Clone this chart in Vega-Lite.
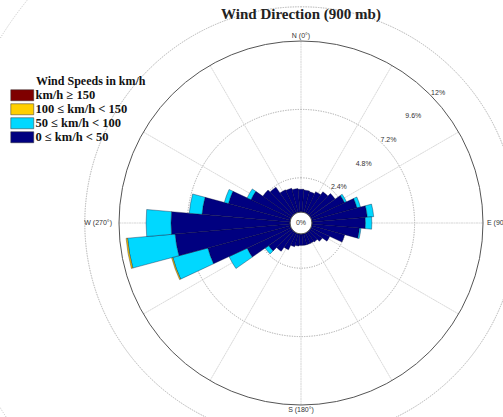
{
  "$schema": "https://vega.github.io/schema/vega-lite/v6.json",
  "width": 400,
  "height": 388,
  "autosize": {"type": "none"},
  "padding": {"left": 101, "top": 29, "right": 2, "bottom": 0},
  "background": "white",
  "config": {"view": {"stroke": null}},
  "datasets": {
    "wind": [
      {"d": 0, "s": "0 ≤ km/h < 50", "p": 1.6},
      {"d": 10, "s": "0 ≤ km/h < 50", "p": 1.55},
      {"d": 20, "s": "0 ≤ km/h < 50", "p": 1.5},
      {"d": 30, "s": "0 ≤ km/h < 50", "p": 1.65},
      {"d": 40, "s": "0 ≤ km/h < 50", "p": 1.9},
      {"d": 50, "s": "0 ≤ km/h < 50", "p": 2.15},
      {"d": 60, "s": "0 ≤ km/h < 50", "p": 2.6},
      {"d": 60, "s": "50 ≤ km/h < 100", "p": 0.15},
      {"d": 70, "s": "0 ≤ km/h < 50", "p": 3.3},
      {"d": 70, "s": "50 ≤ km/h < 100", "p": 0.25},
      {"d": 80, "s": "0 ≤ km/h < 50", "p": 3.9},
      {"d": 80, "s": "50 ≤ km/h < 100", "p": 0.45},
      {"d": 90, "s": "0 ≤ km/h < 50", "p": 3.75},
      {"d": 90, "s": "50 ≤ km/h < 100", "p": 0.45},
      {"d": 100, "s": "0 ≤ km/h < 50", "p": 3.35},
      {"d": 100, "s": "50 ≤ km/h < 100", "p": 0.1},
      {"d": 110, "s": "0 ≤ km/h < 50", "p": 2.4},
      {"d": 120, "s": "0 ≤ km/h < 50", "p": 1.45},
      {"d": 130, "s": "0 ≤ km/h < 50", "p": 1.05},
      {"d": 140, "s": "0 ≤ km/h < 50", "p": 0.85},
      {"d": 150, "s": "0 ≤ km/h < 50", "p": 0.8},
      {"d": 160, "s": "0 ≤ km/h < 50", "p": 0.8},
      {"d": 170, "s": "0 ≤ km/h < 50", "p": 0.8},
      {"d": 180, "s": "0 ≤ km/h < 50", "p": 0.8},
      {"d": 190, "s": "0 ≤ km/h < 50", "p": 0.85},
      {"d": 200, "s": "0 ≤ km/h < 50", "p": 0.95},
      {"d": 210, "s": "0 ≤ km/h < 50", "p": 1.3},
      {"d": 220, "s": "0 ≤ km/h < 50", "p": 1.65},
      {"d": 230, "s": "0 ≤ km/h < 50", "p": 2.0},
      {"d": 230, "s": "50 ≤ km/h < 100", "p": 0.3},
      {"d": 240, "s": "0 ≤ km/h < 50", "p": 3.4},
      {"d": 240, "s": "50 ≤ km/h < 100", "p": 1.4},
      {"d": 250, "s": "0 ≤ km/h < 50", "p": 6.0},
      {"d": 250, "s": "50 ≤ km/h < 100", "p": 2.55},
      {"d": 250, "s": "100 ≤ km/h < 150", "p": 0.08},
      {"d": 260, "s": "0 ≤ km/h < 50", "p": 8.1},
      {"d": 260, "s": "50 ≤ km/h < 100", "p": 3.35},
      {"d": 260, "s": "100 ≤ km/h < 150", "p": 0.1},
      {"d": 270, "s": "0 ≤ km/h < 50", "p": 8.35},
      {"d": 270, "s": "50 ≤ km/h < 100", "p": 1.75},
      {"d": 280, "s": "0 ≤ km/h < 50", "p": 6.2},
      {"d": 280, "s": "50 ≤ km/h < 100", "p": 0.9},
      {"d": 290, "s": "0 ≤ km/h < 50", "p": 4.5},
      {"d": 290, "s": "50 ≤ km/h < 100", "p": 0.3},
      {"d": 300, "s": "0 ≤ km/h < 50", "p": 3.1},
      {"d": 300, "s": "50 ≤ km/h < 100", "p": 0.3},
      {"d": 310, "s": "0 ≤ km/h < 50", "p": 2.5},
      {"d": 320, "s": "0 ≤ km/h < 50", "p": 2.3},
      {"d": 330, "s": "0 ≤ km/h < 50", "p": 1.8},
      {"d": 340, "s": "0 ≤ km/h < 50", "p": 1.75},
      {"d": 350, "s": "0 ≤ km/h < 50", "p": 1.65}
    ]
  },
  "layer": [
    {
      "data": {"values": [{"v": 2.4}, {"v": 4.8}, {"v": 7.2}, {"v": 9.6}]},
      "mark": {"type": "arc", "filled": false, "theta": 0, "theta2": 6.283185307179586, "color": "#b0b0b0", "strokeWidth": 0.8, "strokeDash": [1, 1.5]},
      "encoding": {
        "radius": {"field": "v", "type": "quantitative", "scale": {"type": "linear", "domain": [0, 12], "range": [11, 182], "zero": false}}
      }
    },
    {
      "data": {"values": [{"a": 0}, {"a": 30}, {"a": 60}, {"a": 90}, {"a": 120}, {"a": 150}, {"a": 180}, {"a": 210}, {"a": 240}, {"a": 270}, {"a": 300}, {"a": 330}]},
      "mark": {"type": "arc", "filled": false, "color": "#c4c4c4", "strokeWidth": 0.7, "strokeDash": [1, 1.5]},
      "encoding": {
        "theta": {"field": "a", "type": "quantitative", "scale": {"type": "linear", "domain": [0, 360], "range": [0, 6.283185307179586], "zero": false}},
        "theta2": {"field": "a"},
        "radius": {"datum": 12, "type": "quantitative", "scale": {"type": "linear", "domain": [0, 12], "range": [11, 182], "zero": false}},
        "radius2": {"datum": 0}
      }
    },
    {
      "data": {"name": "wind"},
      "transform": [
        {"calculate": "indexof(['0 ≤ km/h < 50', '50 ≤ km/h < 100', '100 ≤ km/h < 150', 'km/h ≥ 150'], datum.s)", "as": "k"},
        {"calculate": "datum.d - 5", "as": "t0"},
        {"calculate": "datum.d + 5", "as": "t1"},
        {"stack": "p", "groupby": ["d"], "sort": [{"field": "k", "order": "ascending"}], "as": ["r0", "r1"]}
      ],
      "mark": {"type": "arc", "stroke": "#00002a", "strokeWidth": 0.35},
      "encoding": {
        "theta": {"field": "t0", "type": "quantitative", "scale": {"type": "linear", "domain": [0, 360], "range": [0, 6.283185307179586], "zero": false}},
        "theta2": {"field": "t1"},
        "radius": {"field": "r1", "type": "quantitative", "scale": {"type": "linear", "domain": [0, 12], "range": [11, 182], "zero": false}},
        "radius2": {"field": "r0"},
        "color": {
          "field": "s", "type": "nominal",
          "scale": {"domain": ["km/h ≥ 150", "100 ≤ km/h < 150", "50 ≤ km/h < 100", "0 ≤ km/h < 50"], "range": ["#7f0000", "#ffcf00", "#00d8ff", "#000080"]},
          "legend": {
            "orient": "none", "legendX": -65, "legendY": 47, "padding": 0,
            "title": "Wind Speeds in km/h", "titleFont": "Liberation Serif", "titleFontSize": 12, "titleFontWeight": "bold", "titleColor": "#111111", "titlePadding": 1,
            "labelFont": "Liberation Serif", "labelFontSize": 12.5, "labelFontWeight": "bold", "labelColor": "#111111",
            "symbolType": "M-5.48,-0.96H-1.48V0.96H-5.48Z", "symbolSize": 132, "symbolOffset": 0, "labelOffset": -13,
            "rowPadding": 0, "symbolStrokeColor": "#333333", "symbolStrokeWidth": 0.5, "symbolOpacity": 1
          }
        }
      }
    },
    {
      "data": {"values": [{"v": 12}]},
      "mark": {"type": "arc", "filled": false, "theta": 0, "theta2": 6.283185307179586, "color": "#555555", "strokeWidth": 1},
      "encoding": {
        "radius": {"field": "v", "type": "quantitative", "scale": {"type": "linear", "domain": [0, 12], "range": [11, 182], "zero": false}}
      }
    },
    {
      "data": {"values": [{"t": "0%"}]},
      "mark": {"type": "text", "font": "Liberation Sans", "fontSize": 7, "color": "#333333", "baseline": "middle", "align": "center"},
      "encoding": {"text": {"field": "t"}}
    },
    {
      "data": {"values": [{"v": 2.4, "t": "2.4%"}, {"v": 4.8, "t": "4.8%"}, {"v": 7.2, "t": "7.2%"}, {"v": 9.6, "t": "9.6%"}, {"v": 12, "t": "12%"}]},
      "mark": {"type": "text", "font": "Liberation Sans", "fontSize": 7, "color": "#333333", "baseline": "middle", "align": "center", "radiusOffset": 7},
      "encoding": {
        "theta": {"datum": 46.5, "type": "quantitative", "scale": {"type": "linear", "domain": [0, 360], "range": [0, 6.283185307179586], "zero": false}},
        "radius": {"field": "v", "type": "quantitative", "scale": {"type": "linear", "domain": [0, 12], "range": [11, 182], "zero": false}},
        "text": {"field": "t"}
      }
    },
    {
      "data": {"values": [{"a": 0, "t": "N (0°)"}, {"a": 180, "t": "S (180°)"}]},
      "mark": {"type": "text", "font": "Liberation Sans", "fontSize": 7, "color": "#333333", "baseline": "middle", "align": "center", "radiusOffset": 5},
      "encoding": {
        "theta": {"field": "a", "type": "quantitative", "scale": {"type": "linear", "domain": [0, 360], "range": [0, 6.283185307179586], "zero": false}},
        "radius": {"datum": 12, "type": "quantitative", "scale": {"type": "linear", "domain": [0, 12], "range": [11, 182], "zero": false}},
        "text": {"field": "t"}
      }
    },
    {
      "data": {"values": [{"a": 90, "t": "E (90°)"}]},
      "mark": {"type": "text", "font": "Liberation Sans", "fontSize": 7, "color": "#333333", "baseline": "middle", "align": "left", "radiusOffset": 4},
      "encoding": {
        "theta": {"field": "a", "type": "quantitative", "scale": {"type": "linear", "domain": [0, 360], "range": [0, 6.283185307179586], "zero": false}},
        "radius": {"datum": 12, "type": "quantitative", "scale": {"type": "linear", "domain": [0, 12], "range": [11, 182], "zero": false}},
        "text": {"field": "t"}
      }
    },
    {
      "data": {"values": [{"a": 270, "t": "W (270°)"}]},
      "mark": {"type": "text", "font": "Liberation Sans", "fontSize": 7, "color": "#333333", "baseline": "middle", "align": "right", "radiusOffset": 7},
      "encoding": {
        "theta": {"field": "a", "type": "quantitative", "scale": {"type": "linear", "domain": [0, 360], "range": [0, 6.283185307179586], "zero": false}},
        "radius": {"datum": 12, "type": "quantitative", "scale": {"type": "linear", "domain": [0, 12], "range": [11, 182], "zero": false}},
        "text": {"field": "t"}
      }
    },
    {
      "data": {"values": [{"a": 0, "t": "Wind Direction (900 mb)"}]},
      "mark": {"type": "text", "font": "Liberation Serif", "fontSize": 15, "fontWeight": "bold", "color": "#222222", "baseline": "middle", "align": "center", "radiusOffset": 27},
      "encoding": {
        "theta": {"field": "a", "type": "quantitative", "scale": {"type": "linear", "domain": [0, 360], "range": [0, 6.283185307179586], "zero": false}},
        "radius": {"datum": 12, "type": "quantitative", "scale": {"type": "linear", "domain": [0, 12], "range": [11, 182], "zero": false}},
        "text": {"field": "t"}
      }
    }
  ]
}
